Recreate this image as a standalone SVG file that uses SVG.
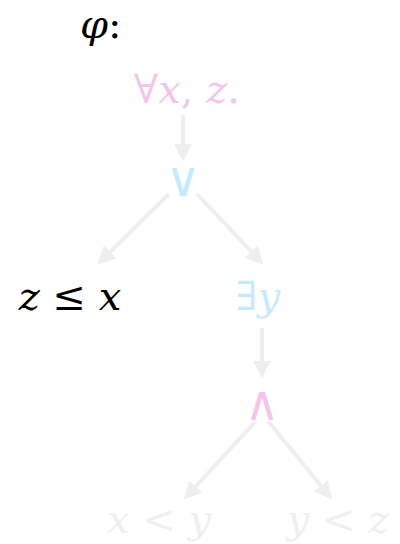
<svg xmlns="http://www.w3.org/2000/svg" width="400" height="544" viewBox="0 0 400 544">
<style>
text{font-family:"DejaVu Serif","Liberation Serif",serif;font-size:40px;}
.it{font-style:italic;}
.op{font-size:48px;font-family:"DejaVu Serif",serif;}
.pink{fill:#f2c6ec;}
.blue{fill:#c6eafa;}
.grey{fill:#efefef;}
.black{fill:#000;}
.e{stroke:#eeeeee;stroke-width:4;fill:none;marker-end:url(#ah);}
</style>
<defs>
<marker id="ah" viewBox="0 0 10 10" refX="8" refY="5" markerWidth="4.5" markerHeight="4.5" orient="auto">
<path d="M0,0 L10,5 L0,10 z" fill="#eeeeee"/>
</marker>
</defs>
<g id="title"><text x="80" y="38" class="black"><tspan class="it">φ</tspan>:</text></g>
<g id="connectors">
<line class="e" x1="183" y1="115" x2="183" y2="158"/>
<line class="e" x1="169" y1="194" x2="100" y2="262"/>
<line class="e" x1="197" y1="194" x2="261" y2="262"/>
<line class="e" x1="262" y1="328" x2="262" y2="375"/>
<line class="e" x1="256" y1="421" x2="186" y2="497"/>
<line class="e" x1="268" y1="421" x2="330" y2="497"/>
</g>
<g id="n_forall"><text x="187" y="103" text-anchor="middle" class="pink">∀<tspan class="it">x</tspan>, <tspan class="it">z</tspan>.</text></g>
<g id="n_or"><text x="183" y="196" text-anchor="middle" class="blue op">∨</text></g>
<g id="n_leq"><text x="70" y="310" text-anchor="middle" class="black"><tspan class="it">z</tspan> ≤ <tspan class="it">x</tspan></text></g>
<g id="n_exists"><text x="258" y="310" text-anchor="middle" class="blue">∃<tspan class="it">y</tspan></text></g>
<g id="n_and"><text x="262" y="420" text-anchor="middle" class="pink op">∧</text></g>
<g id="n_xy"><text x="159" y="533" text-anchor="middle" class="grey"><tspan class="it">x</tspan> &lt; <tspan class="it">y</tspan></text></g>
<g id="n_yz"><text x="338" y="533" text-anchor="middle" class="grey"><tspan class="it">y</tspan> &lt; <tspan class="it">z</tspan></text></g>
</svg>
